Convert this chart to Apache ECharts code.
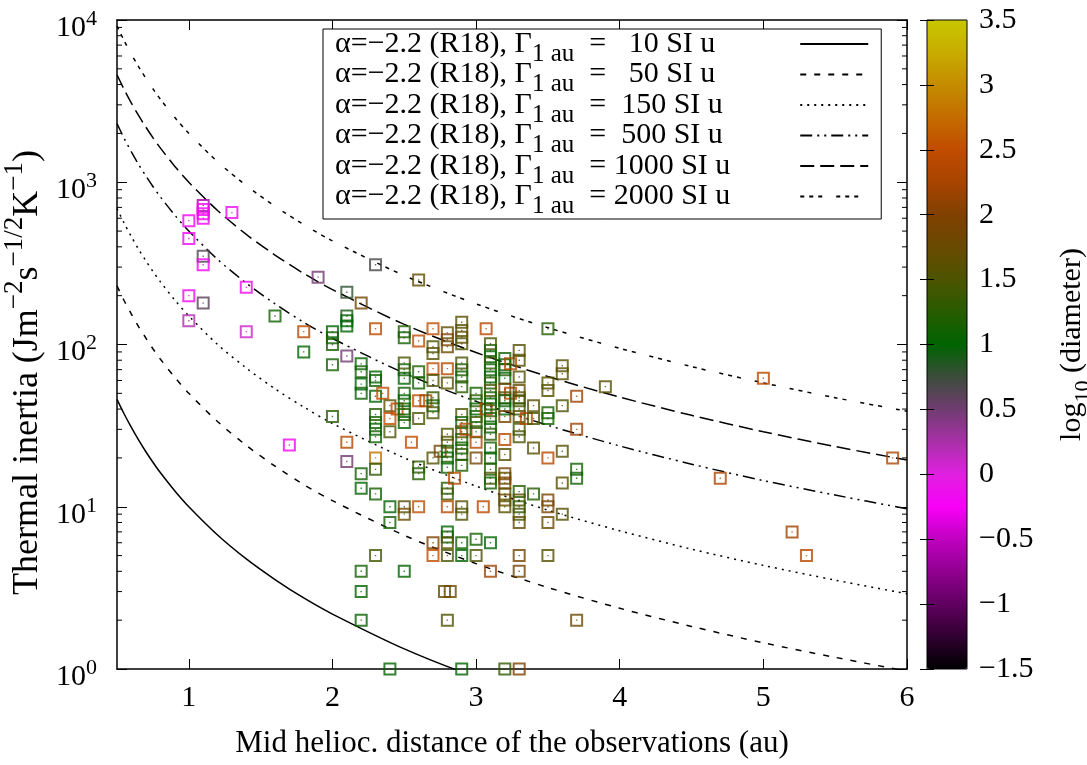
<!DOCTYPE html>
<html>
<head>
<meta charset="utf-8">
<title>Thermal inertia vs heliocentric distance</title>
<script src="https://cdn.jsdelivr.net/npm/echarts@6.0.0/dist/echarts.min.js"></script>
<style>
  html, body { margin: 0; padding: 0; background: #fff; }
  #chart { width: 1087px; height: 765px; }
</style>
</head>
<body>
<div id="chart"></div>
<script>
(function (window, echarts) {
    var serif = 'Liberation Serif';

    // model curves (alpha = -2.2), sampled along the distance axis
    var curveDist = [0.5, 0.55, 0.6, 0.65, 0.7, 0.75, 0.8, 0.9, 1, 1.2, 1.4, 1.6, 1.8, 2, 2.5, 3, 3.5, 4, 4.5, 5, 5.5, 6];
    var gamma1au = [10, 50, 150, 500, 1000, 2000];
    var curve10 = [45.9, 37.3, 30.8, 25.8, 21.9, 18.8, 16.3, 12.6, 10, 6.70, 4.77, 3.56, 2.74, 2.18, 1.33, 0.89, 0.64, 0.47, 0.37, 0.29, 0.24, 0.19];
    var curve50 = [230, 186, 154, 129, 110, 94.2, 81.7, 63.1, 50, 33.5, 23.9, 17.8, 13.7, 10.9, 6.66, 4.46, 3.18, 2.37, 1.83, 1.45, 1.18, 0.97];
    var curve150 = [689, 559, 462, 387, 329, 282, 245, 189, 150, 100, 71.6, 53.3, 41.2, 32.6, 20.0, 13.4, 9.53, 7.11, 5.48, 4.35, 3.53, 2.91];
    var curve500 = [2298, 1863, 1539, 1290, 1096, 942, 817, 631, 500, 335, 239, 178, 137, 109, 66.6, 44.6, 31.8, 23.7, 18.3, 14.5, 11.8, 9.71];
    var curve1000 = [4595, 3725, 3077, 2580, 2192, 1883, 1634, 1261, 1000, 670, 477, 356, 274, 218, 133, 89.2, 63.5, 47.4, 36.6, 29.0, 23.5, 19.4];
    var curve2000 = [9190, 7450, 6154, 5160, 4384, 3766, 3268, 2522, 2000, 1339, 954, 711, 549, 435, 266, 178, 127, 94.7, 73.1, 58.0, 47.0, 38.8];
    var curveDash = ['solid', [6, 8], [2, 5], [12, 5, 2, 5, 2, 5], [14, 6], [4, 5, 4, 5, 4, 14]];

    // observations: mid heliocentric distance, thermal inertia, log10(diameter)
    var obsDist = [
        1.1, 1.1, 1.1, 1.1, 1.3, 1.0, 1.0, 1.1, 1.1, 1.4, 1.0, 1.1, 1.0, 1.4, 1.6, 1.9, 1.8, 1.8, 1.7,
        2.0, 2.0, 2.0, 2.0, 2.0, 2.1, 2.1, 2.1, 2.1, 2.1, 2.1, 2.1,
        2.2, 2.2, 2.2, 2.2, 2.2, 2.2, 2.2, 2.2, 2.2, 2.2,
        2.3, 2.3, 2.3, 2.3, 2.3, 2.3, 2.3, 2.3, 2.3, 2.3, 2.3, 2.3, 2.3, 2.35,
        2.4, 2.45, 2.4, 2.4, 2.4, 2.4, 2.4,
        2.5, 2.5, 2.5, 2.5, 2.5, 2.5, 2.5, 2.5, 2.5, 2.5, 2.5, 2.5, 2.5, 2.55,
        2.6, 2.6, 2.6, 2.6, 2.6, 2.65, 2.6, 2.6, 2.6, 2.6,
        2.7, 2.7, 2.7, 2.7, 2.7, 2.7, 2.7, 2.7, 2.7, 2.75, 2.7, 2.7,
        2.8, 2.8, 2.8, 2.8, 2.8, 2.8, 2.8, 2.8, 2.8, 2.8, 2.8, 2.8, 2.85, 2.8, 2.8, 2.8, 2.8, 2.8, 2.78, 2.82, 2.8,
        2.9, 2.9, 2.9, 2.9, 2.9, 2.9, 2.9, 2.9, 2.9, 2.9, 2.9, 2.9, 2.9, 2.9, 2.9, 2.93, 2.9, 2.9, 2.9, 2.9, 2.9,
        3.0, 3.0, 3.0, 3.0, 3.0, 3.0, 3.0, 3.0, 3.0, 3.0, 3.05, 3.07, 3.07,
        3.1, 3.1, 3.1, 3.1, 3.1, 3.1, 3.1, 3.1, 3.1, 3.1, 3.1, 3.1, 3.1, 3.1, 3.1, 3.1, 3.1, 3.1, 3.1, 3.1, 3.1,
        3.2, 3.2, 3.2, 3.2, 3.24, 3.24, 3.2, 3.2, 3.2, 3.2, 3.2, 3.2, 3.2, 3.2, 3.2, 3.2, 3.2, 3.2, 3.2, 3.2,
        3.3, 3.3, 3.3, 3.3, 3.3, 3.3, 3.3, 3.3, 3.3, 3.3, 3.3, 3.3, 3.3, 3.3, 3.3, 3.3, 3.3, 3.3, 3.35,
        3.4, 3.4, 3.4, 3.4,
        3.5, 3.5, 3.5, 3.5, 3.5, 3.5, 3.5, 3.5, 3.5, 3.5,
        3.6, 3.6, 3.6, 3.6, 3.6, 3.6,
        3.7, 3.7, 3.7, 3.7, 3.7,
        3.9, 4.7, 5.0, 5.2, 5.3, 5.9
    ];
    var obsInertia = [
        720, 680, 640, 600, 650, 580, 450, 350, 310, 225, 200, 180, 140, 120, 150, 260, 120, 90, 24,
        120, 110, 100, 75, 36, 210, 150, 140, 130, 85, 25, 19,
        180, 76, 68, 57, 50, 16, 13, 4, 3, 2,
        310, 125, 63, 60, 48, 37, 33, 30, 27, 20, 17, 12, 5, 50,
        42, 40, 35, 29, 10, 8, 1,
        120, 110, 77, 70, 62, 50, 45, 40, 37, 33, 10, 9, 4, 25,
        250, 105, 68, 58, 45, 45, 35, 17.6, 16, 10,
        125, 97, 88, 71, 60, 47, 42, 38, 20, 22, 6, 5,
        118, 107, 97, 71, 58, 28, 25, 22, 20, 17.5, 13, 12, 15, 10, 7, 6.5, 6, 5, 3, 3, 2,
        137, 122, 111, 101, 77, 70, 63, 55, 37, 33, 29, 26, 23, 21, 18, 30, 10, 9, 6, 5, 1,
        50, 45, 40, 36, 33, 29, 25, 20, 6.3, 5, 10, 40, 125,
        101, 92, 84, 77, 70, 63, 58, 52, 47, 43, 39, 35, 31, 28, 23, 20, 17, 15, 14, 6, 4,
        82, 75, 70, 62, 76, 50, 53, 47, 45, 40, 36, 26, 21, 16, 15, 14, 12, 11, 10, 1,
        92, 80, 63, 52, 47, 45, 40, 36, 30, 27, 12.4, 11, 10, 9, 8, 5, 4, 1, 35,
        42, 35, 23, 12,
        125, 58, 52, 38, 35, 20, 11, 10, 8, 5,
        74, 66, 42, 22, 14, 9,
        48, 30, 17, 15, 2,
        55, 15, 62, 7, 5, 20
    ];
    var obsLogD = [
        -0.6, -0.2, -0.2, -0.2, -0.15, -0.2, -0.2, 0.65, -0.2, -0.15, -0.2, 0.6, 0.2, 0.1, 1.1, 0.5, 2.4, 1.0, -0.2,
        1.0, 1.1, 1.15, 1.1, 1.25, 0.8, 0.9, 1.0, 1.0, 0.5, 2.4, 0.5,
        1.9, 1.0, 1.1, 1.0, 1.05, 1.1, 1.0, 1.1, 1.0, 1.05,
        0.7, 2.45, 1.0, 1.1, 1.0, 1.2, 1.1, 1.0, 1.1, 2.8, 1.3, 1.1, 1.4, 2.5,
        1.6, 2.4, 2.5, 1.5, 1.0, 1.1, 1.0,
        1.2, 1.1, 1.5, 1.1, 1.0, 1.1, 1.0, 1.1, 1.2, 1.0, 1.6, 1.8, 1.0, 2.5,
        1.7, 2.5, 1.2, 1.1, 2.5, 2.3, 1.5, 1.3, 1.2, 2.5,
        2.5, 1.5, 1.6, 2.5, 1.5, 1.3, 1.1, 1.5, 1.6, 1.9, 2.0, 2.5,
        1.7, 2.0, 1.8, 2.4, 1.6, 1.5, 1.6, 1.2, 1.0, 1.1, 1.2, 1.4, 2.4, 2.4, 1.0, 1.1, 1.6, 1.5, 1.7, 1.8, 1.5,
        1.6, 1.6, 1.7, 1.5, 1.5, 1.2, 1.1, 1.3, 1.5, 1.1, 1.6, 1.2, 1.1, 1.3, 1.2, 2.4, 1.6, 1.5, 1.1, 1.0, 1.0,
        1.1, 1.3, 1.0, 1.1, 1.4, 1.2, 2.4, 1.9, 1.1, 1.5, 2.4, 2.4, 2.4,
        1.5, 1.2, 1.0, 1.3, 1.1, 1.0, 1.2, 1.5, 1.1, 1.0, 1.4, 1.1, 1.0, 1.3, 1.1, 1.0, 1.2, 1.5, 1.1, 1.0, 2.2,
        1.1, 1.0, 1.2, 1.0, 2.4, 2.4, 1.9, 1.6, 1.1, 1.0, 1.9, 2.4, 1.6, 1.9, 1.7, 2.0, 1.6, 1.8, 1.6, 1.3,
        1.6, 1.6, 1.6, 1.7, 1.6, 1.5, 1.3, 1.6, 1.4, 1.5, 1.2, 1.6, 1.3, 1.5, 1.7, 1.9, 1.9, 2.0, 2.4,
        1.6, 1.5, 1.6, 1.2,
        1.2, 1.6, 1.6, 1.1, 1.1, 2.4, 1.9, 1.9, 1.8, 1.6,
        1.6, 1.6, 1.5, 1.6, 1.6, 1.6,
        2.2, 2.2, 1.1, 1.1, 1.8,
        1.6, 2.3, 2.4, 2.2, 2.4, 2.3
    ];

    // axes
    var xTickVals = [1, 2, 3, 4, 5, 6];
    var yTickVals = [1, 10, 100, 1000, 10000];
    var yMinorVals = [2, 3, 4, 5, 6, 7, 8, 9, 20, 30, 40, 50, 60, 70, 80, 90,
        200, 300, 400, 500, 600, 700, 800, 900, 2000, 3000, 4000, 5000, 6000, 7000, 8000, 9000];

    // colour bar, -1.5 .. 3.5 in steps of 0.25
    var cbarColors = ['#000000', '#300030', '#600060', '#900090', '#c000c0', '#f800f8', '#e020e0',
        '#a830a8', '#703c70', '#3c4c3c', '#006400', '#285c00', '#4c5400', '#684a00', '#804000',
        '#a84400', '#c04c00', '#c46c00', '#c48c00', '#c8ac00', '#c8c800'];

    var curves = [curve10, curve50, curve150, curve500, curve1000, curve2000];
    var curveNames = gamma1au.map(function (g) { return 'G' + g; });

    function pad4(n) {
        var s = String(n);
        while (s.length < 4) { s = ' ' + s; }
        return s;
    }

    var black = '#000';
    var frameLine = { show: true, lineStyle: { color: black, width: 1.5 } };

    var series = curves.map(function (vals, i) {
        return {
            name: curveNames[i],
            type: 'line',
            xAxisIndex: 0,
            yAxisIndex: 0,
            data: curveDist.map(function (r, j) { return [r, vals[j]]; }),
            symbol: 'none',
            smooth: 0.3,
            clip: true,
            silent: true,
            lineStyle: { color: black, width: 1.5, type: curveDash[i] },
            itemStyle: { color: black },
            z: 2
        };
    });

    series.push({
        name: 'obs',
        type: 'scatter',
        xAxisIndex: 0,
        yAxisIndex: 0,
        data: obsDist.map(function (r, i) { return [r, obsInertia[i], obsLogD[i]]; }),
        // hollow square with a dot in the middle
        symbol: 'path://M0,0H13V13H0Z M2,2V11H11V2Z M5.8,5.8H7.2V7.2H5.8Z',
        symbolSize: 13,
        symbolKeepAspect: true,
        silent: true,
        z: 3
    });

    // minor ticks of the log axis, on both sides of the frame
    series.push({
        type: 'custom',
        xAxisIndex: 0,
        yAxisIndex: 0,
        silent: true,
        clip: false,
        data: yMinorVals.map(function (v) { return [0.5, v]; }),
        encode: { x: 0, y: 1 },
        renderItem: function (params, api) {
            var l = api.coord([0.5, api.value(1)]);
            var r = api.coord([6, api.value(1)]);
            var st = { stroke: black, lineWidth: 1 };
            return {
                type: 'group',
                children: [
                    { type: 'line', shape: { x1: l[0], y1: l[1], x2: l[0] + 5, y2: l[1] }, style: st },
                    { type: 'line', shape: { x1: r[0] - 5, y1: r[1], x2: r[0], y2: r[1] }, style: st }
                ]
            };
        },
        z: 4
    });

    var chart = echarts.init(document.getElementById('chart'));
    chart.setOption({
        backgroundColor: '#fff',
        animation: false,
        textStyle: { fontFamily: serif, color: black },
        grid: [
            { left: 117, top: 20, width: 790, height: 649, outerBoundsMode: 'none' },
            { left: 927, top: 20, width: 40, height: 649, outerBoundsMode: 'none', show: true, borderColor: black, borderWidth: 1, backgroundColor: 'transparent', z: 10 }
        ],
        legend: {
            data: curveNames,
            orient: 'vertical',
            align: 'right',
            left: 323,
            top: 29,
            padding: [0, 12, 0, 12],
            itemGap: -7,
            itemWidth: 68,
            itemHeight: 14,
            backgroundColor: '#fff',
            borderColor: black,
            borderWidth: 1,
            selectedMode: false,
            itemStyle: { opacity: 0 },
            z: 6,
            formatter: function (name) {
                var g = gamma1au[curveNames.indexOf(name)];
                return '{t|α=−2.2 (R18), Γ}{s|1 au}{r|  = ' + pad4(g) + ' SI u}';
            },
            textStyle: {
                rich: {
                    t: { fontFamily: serif, fontSize: 30, lineHeight: 30, color: black, align: 'left' },
                    s: { fontFamily: serif, fontSize: 25, height: 10, lineHeight: 10, verticalAlign: 'bottom', color: black, align: 'left' },
                    r: { fontFamily: serif, fontSize: 30, lineHeight: 30, width: 221, color: black, align: 'left' }
                }
            }
        },
        xAxis: [
            {
                gridIndex: 0, type: 'value', min: 0.5, max: 6, position: 'bottom',
                axisLine: frameLine,
                axisTick: { inside: true, length: 10, customValues: xTickVals, lineStyle: { color: black, width: 1 } },
                axisLabel: { customValues: xTickVals, fontFamily: serif, fontSize: 30, color: black, margin: 14 },
                splitLine: { show: false },
                name: 'Mid helioc. distance of the observations (au)',
                nameLocation: 'middle',
                nameGap: 59,
                nameTextStyle: { fontFamily: serif, fontSize: 31, color: black }
            },
            {
                gridIndex: 0, type: 'value', min: 0.5, max: 6, position: 'top',
                axisLine: frameLine,
                axisTick: { inside: true, length: 10, customValues: xTickVals, lineStyle: { color: black, width: 1 } },
                axisLabel: { show: false },
                splitLine: { show: false }
            },
            { gridIndex: 1, type: 'value', min: 0, max: 1, show: false }
        ],
        yAxis: [
            {
                gridIndex: 0, type: 'log', logBase: 10, min: 1, max: 10000, position: 'left',
                axisLine: frameLine,
                axisTick: { inside: true, length: 10, customValues: yTickVals, lineStyle: { color: black, width: 1 } },
                axisLabel: {
                    customValues: yTickVals,
                    margin: 20,
                    padding: [16, 0, 0, 0],
                    formatter: function (v) {
                        return '{b|10}{e|' + Math.round(Math.log10(v)) + '}';
                    },
                    rich: {
                        b: { fontFamily: serif, fontSize: 30, lineHeight: 30, color: black },
                        e: { fontFamily: serif, fontSize: 22, height: 12, lineHeight: 12, verticalAlign: 'top', color: black }
                    }
                },
                splitLine: { show: false },
                name: '{t|Thermal inertia (Jm}{u|−2}{t|s}{u|−1/2}{t|K}{u|−1}{t|)}',
                nameLocation: 'middle',
                nameRotate: 90,
                nameGap: 62,
                nameTextStyle: {
                    padding: [0, 56, 0, 0],
                    rich: {
                        t: { fontFamily: serif, fontSize: 36, lineHeight: 40, color: black },
                        u: { fontFamily: serif, fontSize: 27, height: 16, lineHeight: 16, verticalAlign: 'top', color: black }
                    }
                }
            },
            {
                gridIndex: 0, type: 'log', logBase: 10, min: 1, max: 10000, position: 'right',
                axisLine: frameLine,
                axisTick: { inside: true, length: 10, customValues: yTickVals, lineStyle: { color: black, width: 1 } },
                axisLabel: { show: false },
                splitLine: { show: false }
            },
            {
                gridIndex: 1, type: 'value', min: -1.5, max: 3.5, interval: 0.5, position: 'right',
                axisLine: { show: false },
                axisTick: { inside: true, length: 7, lineStyle: { color: black, width: 1 } },
                axisLabel: {
                    fontFamily: serif, fontSize: 30, color: black, margin: 12,
                    formatter: function (v) { return v < 0 ? '−' + Math.abs(v) : String(v); }
                },
                splitLine: { show: false },
                name: '{t|log}{d|10}{t| (diameter)}',
                nameLocation: 'middle',
                nameRotate: 90,
                nameGap: 88,
                nameTextStyle: {
                    rich: {
                        t: { fontFamily: serif, fontSize: 30, lineHeight: 34, color: black },
                        d: { fontFamily: serif, fontSize: 22, height: 12, lineHeight: 12, verticalAlign: 'bottom', color: black }
                    }
                },
                z: 10
            },
            {
                gridIndex: 1, type: 'value', min: -1.5, max: 3.5, interval: 0.5, position: 'left',
                axisLine: { show: false },
                axisTick: { inside: true, length: 7, lineStyle: { color: black, width: 1 } },
                axisLabel: { show: false },
                splitLine: { show: false },
                z: 10
            }
        ],
        visualMap: {
            type: 'continuous',
            min: -1.5,
            max: 3.5,
            dimension: 2,
            seriesIndex: 6,
            calculable: false,
            hoverLink: false,
            orient: 'vertical',
            left: 927,
            top: 20,
            itemWidth: 40,
            itemHeight: 649,
            padding: 0,
            text: null,
            showLabel: false,
            inRange: { color: cbarColors }
        },
        series: series
    });
})(window, echarts);
</script>
</body>
</html>
